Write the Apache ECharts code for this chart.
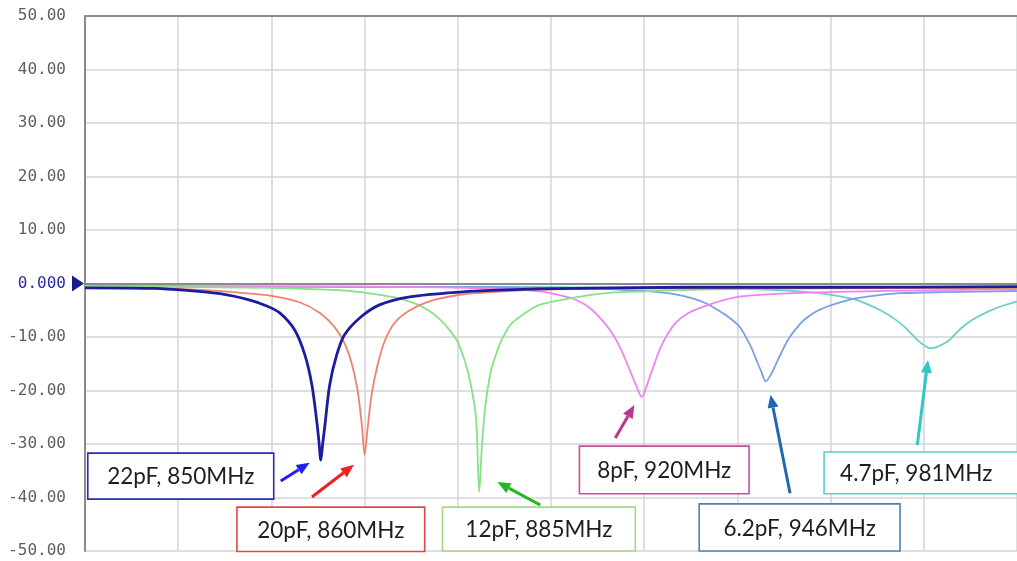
<!DOCTYPE html>
<html>
<head>
<meta charset="utf-8">
<script src="https://cdn.jsdelivr.net/npm/echarts@6/dist/echarts.min.js"></script>
<style>
html,body{margin:0;padding:0;background:#fff;}
#chart{width:1017px;height:561px;}
</style>
</head>
<body>
<div id="chart"></div>
<script>
// ---- Data (frequency in MHz, response in dB) ----
const yTicks = [50, 40, 30, 20, 10, 0, -10, -20, -30, -40, -50];

const freq22 = [800, 815, 822, 829, 835.4, 839, 841.8, 845, 847.2, 848.7, 849.7, 850.2, 850.6, 851, 851.5, 852.5, 854, 855.7, 859, 863.2, 869.7, 880.4, 890, 905, 930, 960, 1000];
const db22   = [-0.8, -0.9, -1.3, -1.9, -3.1, -4.2, -5.5, -8.7, -13.4, -19, -25.5, -29.5, -33, -30, -26.4, -19, -13.4, -9.6, -6.4, -4, -2.5, -1.6, -1.2, -0.9, -0.7, -0.7, -0.6];

const freq20 = [800, 815, 825, 833, 840, 846, 850.4, 853.6, 855.7, 857.2, 858.5, 859.4, 860, 860.6, 861.5, 862.8, 864.3, 866.5, 869.7, 874, 880.4, 887, 900, 930, 1000];
const db20   = [-0.8, -0.9, -1.2, -1.7, -2.3, -3.5, -5.5, -8.2, -11.2, -14.8, -20, -26.4, -32, -27.4, -20.8, -15.2, -10.8, -7.3, -5, -3.3, -2.1, -1.6, -1.1, -0.9, -0.8];

const freq12 = [800, 840, 850, 858, 864, 868, 871, 874, 876.5, 878.5, 880, 881.5, 882.7, 883.9, 884.6, 885.2, 885.9, 887.1, 888.5, 889.6, 891.5, 894, 897.5, 904.6, 911.8, 919, 935, 960, 1000];
const db12   = [-0.6, -0.8, -1.1, -1.5, -2.2, -2.9, -3.8, -5.2, -7, -9, -11, -14.5, -18.5, -25, -39, -30, -23, -16.4, -12.5, -10.2, -7.5, -5.8, -4, -2.7, -1.8, -1.5, -1.1, -0.9, -0.8];

const freq8 = [800, 860, 890, 898, 901, 904.6, 907, 908.9, 911, 913.2, 915, 916.1, 917.2, 918.2, 919.5, 920.4, 921.1, 922.4, 923.5, 925, 926.8, 929.5, 933.5, 937, 941, 951.8, 964.6, 980, 1000];
const db8   = [-0.5, -0.6, -1.0, -1.5, -2.0, -2.8, -3.8, -5.0, -6.9, -9.4, -12.3, -14.5, -16.8, -18.9, -21.2, -19.5, -17.7, -14.5, -12, -9.5, -7.3, -5.5, -4.1, -3.1, -2.4, -1.8, -1.5, -1.3, -1.1];

const freq62 = [800, 890, 910, 918, 923, 926.5, 930.4, 933.2, 935.5, 937.5, 940.3, 941.5, 943, 943.9, 945, 946.1, 947.2, 948.2, 949.5, 951.1, 953, 954.6, 957, 960, 963, 966, 970, 975, 985, 1000];
const db62   = [-0.5, -0.7, -1.0, -1.3, -1.6, -2.0, -2.8, -3.7, -4.8, -5.9, -7.9, -9.5, -12, -13.9, -16.2, -18.3, -17, -15.2, -12.8, -10.2, -8, -6.6, -5.2, -4.1, -3.3, -2.7, -2.2, -1.8, -1.6, -1.4];

const freq47 = [800, 900, 940, 950, 957.5, 962, 965.3, 968, 971.1, 974, 976.1, 978, 979.5, 981.5, 983, 985.3, 987, 988.9, 991, 993.9, 996.5, 1000];
const db47   = [-0.6, -0.7, -1.0, -1.3, -1.8, -2.4, -3.0, -3.9, -5.2, -6.8, -8.3, -10, -11.2, -12.1, -11.8, -10.7, -9.2, -7.7, -6.5, -5.2, -4.3, -3.4];

const seriesNames = ['22pF', '20pF', '12pF', '8pF', '6.2pF', '4.7pF'];
const annotationLabels = ['22pF, 850MHz', '20pF, 860MHz', '12pF, 885MHz', '8pF, 920MHz', '6.2pF, 946MHz', '4.7pF, 981MHz'];

// ---- Styling / layout ----
const lineColors = ['#1c1c9e', '#f2806f', '#86e286', '#ef84ef', '#7c9fe6', '#6ccfc6'];
const lineWidths = [2.8, 1.8, 1.8, 1.8, 1.8, 1.8];
const boxColors  = ['#2a2ab8', '#e04848', '#a6d882', '#c8509a', '#4f7fb8', '#5ccccc'];
const arrowColors = ['#1f1ff0', '#f02020', '#22b822', '#b8388a', '#2068b0', '#33c4c4'];
// box corners [f1, db1, f2, db2], arrow [tailF, tailDb, headF, headDb] in data units
const boxes = [
  [800.6, -31.7, 840.5, -40.3],
  [832.6, -41.8, 872.9, -50.1],
  [876.7, -41.8, 918.1, -50.0],
  [906.1, -30.4, 942.5, -39.3],
  [931.8, -41.2, 974.9, -50.0],
  [958.6, -31.5, 1001, -39.3]
];
const arrows = [
  [842.0, -36.9, 848.2, -33.5],
  [848.7, -39.9, 857.7, -33.9],
  [897.7, -41.4, 888.5, -37.1],
  [913.8, -28.9, 917.9, -22.7],
  [951.3, -39.2, 947.1, -20.8],
  [978.6, -30.2, 980.9, -14.3]
];

const allFreq = [freq22, freq20, freq12, freq8, freq62, freq47];
const allDb = [db22, db20, db12, db8, db62, db47];
const drawOrder = [5, 4, 3, 2, 1, 0];

const chart = echarts.init(document.getElementById('chart'), null, {renderer: 'canvas'});

const series = drawOrder.map(i => ({
  name: seriesNames[i],
  type: 'line',
  data: allFreq[i].map((f, k) => [f, allDb[i][k]]),
  showSymbol: false,
  smooth: 0.3,
  lineStyle: {color: lineColors[i], width: lineWidths[i]},
  itemStyle: {color: lineColors[i]},
  z: 2 + (5 - i)
}));

chart.setOption({
  animation: false,
  backgroundColor: '#fff',
  grid: {left: 85, top: 16, right: -2, bottom: 10, show: false},
  xAxis: {
    type: 'value', min: 800, max: 1000, interval: 20,
    axisLine: {show: true, lineStyle: {color: '#8a8a8a', width: 2}},
    axisTick: {show: false},
    axisLabel: {show: false},
    splitLine: {show: true, lineStyle: {color: '#d4d4d4', width: 1.5}}
  },
  yAxis: {
    type: 'value', min: -50, max: 50, interval: 10,
    axisLine: {show: true, onZero: false, lineStyle: {color: '#8a8a8a', width: 2}},
    axisTick: {show: false},
    axisLabel: {
      margin: 19,
      fontFamily: 'DejaVu Sans Mono',
      fontSize: 16,
      color: '#5f5f5f',
      formatter: v => v === 0 ? '{z|0.000}' : v.toFixed(2),
      rich: {z: {color: '#2a2aa8', fontFamily: 'DejaVu Sans Mono', fontSize: 16}}
    },
    splitLine: {show: true, lineStyle: {color: '#d4d4d4', width: 1.5}}
  },
  series: series
});

function px(f, v) { return chart.convertToPixel({seriesIndex: 0}, [f, v]); }

const graphics = [];
// top border
const tl = px(800, 50), tr = px(1000, 50);
graphics.push({type: 'line', shape: {x1: tl[0], y1: tl[1], x2: tr[0] + 5, y2: tr[1]}, style: {stroke: '#8a8a8a', lineWidth: 2}, z: 50});
// zero marker triangle
const z0 = px(800, 0);
graphics.push({type: 'polygon', shape: {points: [[z0[0] - 13, z0[1] - 8], [z0[0] - 1, z0[1]], [z0[0] - 13, z0[1] + 8]]}, style: {fill: '#1a1a8c'}, z: 50});

boxes.forEach((b, i) => {
  const p1 = px(b[0], b[1]), p2 = px(b[2], b[3]);
  graphics.push({type: 'rect', shape: {x: p1[0], y: p1[1], width: p2[0] - p1[0], height: p2[1] - p1[1]},
    style: {fill: '#ffffff', stroke: boxColors[i], lineWidth: 1.6}, z: 60});
  graphics.push({type: 'text', x: (p1[0] + p2[0]) / 2, y: (p1[1] + p2[1]) / 2 + 1,
    style: {text: annotationLabels[i], fill: '#1e1e1e', font: '22.5px Lato', align: 'center', verticalAlign: 'middle'}, z: 61});
});
// the last box text is left-aligned in the reference (box runs off the right edge)
{
  const p1 = px(boxes[5][0], boxes[5][1]);
  const t = graphics[graphics.length - 1];
  t.x = p1[0] + 16; t.style.align = 'left';
}

arrows.forEach((a, i) => {
  const t = px(a[0], a[1]), h = px(a[2], a[3]);
  const ang = Math.atan2(h[1] - t[1], h[0] - t[0]);
  const L = 13, W = 5.5;
  const bx = h[0] - L * Math.cos(ang), by = h[1] - L * Math.sin(ang);
  graphics.push({type: 'line', shape: {x1: t[0], y1: t[1], x2: bx, y2: by}, style: {stroke: arrowColors[i], lineWidth: 3}, z: 62});
  graphics.push({type: 'polygon', shape: {points: [
    [h[0], h[1]],
    [bx + W * Math.sin(ang), by - W * Math.cos(ang)],
    [bx - W * Math.sin(ang), by + W * Math.cos(ang)]
  ]}, style: {fill: arrowColors[i]}, z: 62});
});

chart.setOption({graphic: graphics});
</script>
</body>
</html>
